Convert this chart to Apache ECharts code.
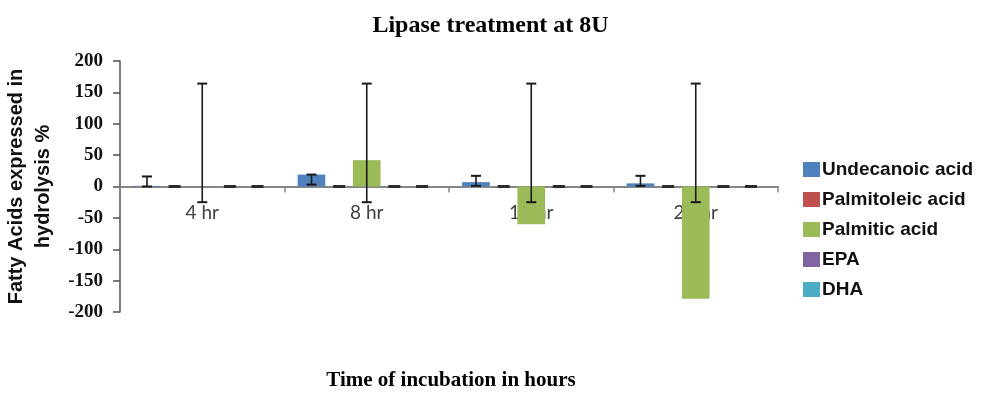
<!DOCTYPE html>
<html>
<head>
<meta charset="utf-8">
<script src="https://cdn.jsdelivr.net/npm/echarts@6/dist/echarts.min.js"></script>
<style>html,body{margin:0;padding:0;background:#fff}#c{width:981px;height:397px}</style>
</head>
<body>
<div id="c"></div>
<script>
// ---- data ----
const categories = ['4 hr', '8 hr', '12 hr', '24 hr'];
const seriesNames = ['Undecanoic acid', 'Palmitoleic acid', 'Palmitic acid', 'EPA', 'DHA'];
const undecanoic = [1, 19, 7, 5];
const palmitoleic = [0, 0, 0, 0];
const palmitic = [0, 42, -60, -179];
const epa = [0, 0, 0, 0];
const dha = [0, 0, 0, 0];
// error bar end points (low, high)
const undecanoicErrLow = [0, 3, 1, 1];
const undecanoicErrHigh = [16, 19, 17, 17];
const palmitoleicErrLow = [0, 0, 0, 0];
const palmitoleicErrHigh = [0, 0, 0, 0];
const palmiticErrLow = [-25, -25, -25, -25];
const palmiticErrHigh = [164, 164, 164, 164];
const epaErrLow = [0, 0, 0, 0];
const epaErrHigh = [0, 0, 0, 0];
const dhaErrLow = [0, 0, 0, 0];
const dhaErrHigh = [0, 0, 0, 0];
const yTicks = [-200, -150, -100, -50, 0, 50, 100, 150, 200];

const values = [undecanoic, palmitoleic, palmitic, epa, dha];
const errLows = [undecanoicErrLow, palmitoleicErrLow, palmiticErrLow, epaErrLow, dhaErrLow];
const errHighs = [undecanoicErrHigh, palmitoleicErrHigh, palmiticErrHigh, epaErrHigh, dhaErrHigh];
const colors = ['#4F81BD', '#C0504D', '#9BBB59', '#8064A2', '#4BACC6'];
const CAT_GAP = 0.16;

const errData = [];
for (let s = 0; s < values.length; s++) {
  for (let c = 0; c < categories.length; c++) {
    errData.push([c, s, errLows[s][c], errHighs[s][c]]);
  }
}

function renderErr(params, api) {
  const cat = api.value(0), s = api.value(1), lo = api.value(2), hi = api.value(3);
  const band = api.size([1, 0])[0];
  const step = band * (1 - CAT_GAP) / values.length;
  const cx = api.coord([cat, 0])[0] + (s - (values.length - 1) / 2) * step;
  const yLo = api.coord([cat, lo])[1];
  const yHi = api.coord([cat, hi])[1];
  if (lo === hi) {
    return {
      type: 'rect',
      shape: { x: cx - 6, y: yLo - 1.5, width: 12, height: 3 },
      style: { fill: '#2a2a2a' }
    };
  }
  const st = { stroke: '#1a1a1a', lineWidth: 1.6 };
  return {
    type: 'group',
    children: [
      { type: 'line', shape: { x1: cx, y1: yLo, x2: cx, y2: yHi }, style: st },
      { type: 'line', shape: { x1: cx - 5, y1: yHi, x2: cx + 5, y2: yHi }, style: { stroke: '#1a1a1a', lineWidth: 2 } },
      { type: 'line', shape: { x1: cx - 5, y1: yLo, x2: cx + 5, y2: yLo }, style: { stroke: '#1a1a1a', lineWidth: 2 } }
    ]
  };
}

const series = seriesNames.map((n, i) => ({
  name: n,
  type: 'bar',
  data: values[i],
  barGap: '0%',
  barCategoryGap: (CAT_GAP * 100) + '%',
  itemStyle: { color: colors[i] },
  z: 3
}));
series.push({
  type: 'custom',
  renderItem: renderErr,
  data: errData,
  encode: { x: 0, y: [2, 3] },
  z: 5,
  silent: true
});

const chart = echarts.init(document.getElementById('c'), null, { renderer: 'canvas' });
chart.setOption({
  animation: false,
  backgroundColor: '#fff',
  title: {
    text: 'Lipase treatment at 8U',
    left: 'center',
    top: 9,
    textStyle: { fontFamily: 'Liberation Serif', fontWeight: 'bold', fontSize: 24, color: '#000' }
  },
  legend: {
    orient: 'vertical',
    left: 803,
    top: 160,
    padding: 0,
    itemWidth: 17,
    itemHeight: 15,
    itemGap: 11,
    icon: 'rect',
    data: seriesNames,
    textStyle: { fontFamily: 'Liberation Sans', fontWeight: 'bold', fontSize: 19, color: '#111', padding: [0, 0, 0, -3] }
  },
  grid: { left: 120, right: 203, top: 61, bottom: 85, containLabel: false, outerBoundsMode: 'none' },
  xAxis: {
    type: 'category',
    data: categories,
    axisLine: { onZero: true, lineStyle: { color: '#868686', width: 2 } },
    axisTick: { show: true, length: 6, lineStyle: { color: '#868686', width: 1.5 } },
    axisLabel: { margin: -109, fontFamily: 'Lato', fontSize: 19, color: '#404040' },
    z: 0
  },
  yAxis: {
    type: 'value',
    min: -200,
    max: 200,
    interval: 50,
    name: 'Fatty Acids expressed in\nhydrolysis %',
    nameLocation: 'middle',
    nameRotate: 90,
    nameGap: 58,
    nameTextStyle: { fontFamily: 'Liberation Sans', fontWeight: 'bold', fontSize: 20, color: '#111', lineHeight: 27, align: 'center' },
    axisLine: { show: true, lineStyle: { color: '#505050', width: 1.5 } },
    axisTick: { show: true, length: 7, lineStyle: { color: '#505050', width: 1.5 } },
    splitLine: { show: false },
    axisLabel: {
      margin: 17,
      fontFamily: 'Liberation Serif',
      fontWeight: 'bold',
      fontSize: 19,
      color: '#111',
      formatter: v => (yTicks.indexOf(v) >= 0 ? String(v) : '')
    }
  },
  graphic: [{
    type: 'text',
    x: 451,
    y: 381,
    style: {
      text: 'Time of incubation in hours',
      font: 'bold 21px "Liberation Serif"',
      fill: '#000',
      align: 'center',
      verticalAlign: 'middle'
    }
  }],
  series: series
});
</script>
</body>
</html>
